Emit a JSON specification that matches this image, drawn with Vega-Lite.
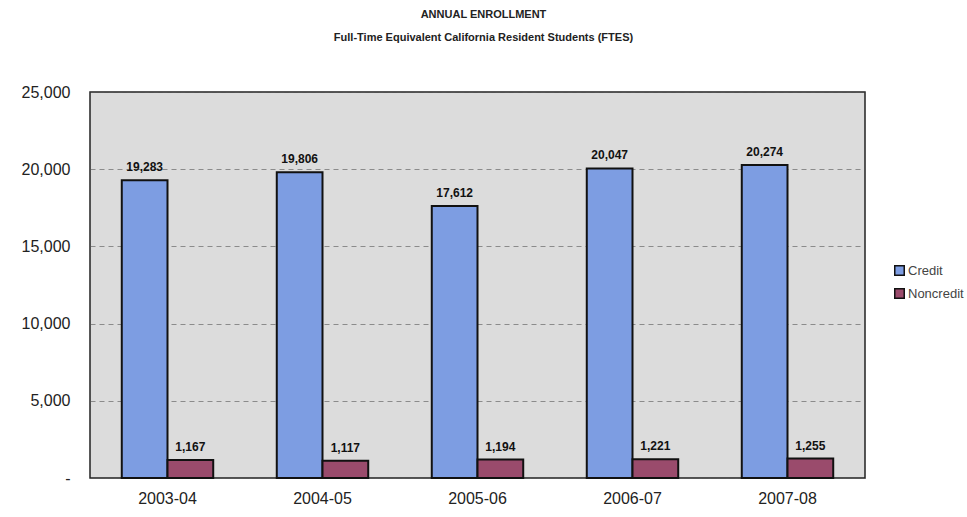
{
  "$schema": "https://vega.github.io/schema/vega-lite/v6.json",
  "width": 775,
  "height": 386,
  "autosize": {"type": "none"},
  "padding": {"left": 90, "top": 92, "right": 102, "bottom": 39},
  "background": "white",
  "title": {
    "text": "ANNUAL ENROLLMENT",
    "subtitle": "Full-Time Equivalent California Resident Students (FTES)",
    "font": "Liberation Sans",
    "fontSize": 11,
    "fontWeight": "bold",
    "subtitleFont": "Liberation Sans",
    "subtitleFontSize": 11,
    "subtitleFontWeight": "bold",
    "subtitleColor": "#222",
    "subtitlePadding": 12,
    "color": "#222",
    "anchor": "middle",
    "offset": 41,
    "dx": 6
  },
  "data": {
    "values": [
      {"year": "2003-04", "series": "Credit", "value": 19283},
      {"year": "2003-04", "series": "Noncredit", "value": 1167},
      {"year": "2004-05", "series": "Credit", "value": 19806},
      {"year": "2004-05", "series": "Noncredit", "value": 1117},
      {"year": "2005-06", "series": "Credit", "value": 17612},
      {"year": "2005-06", "series": "Noncredit", "value": 1194},
      {"year": "2006-07", "series": "Credit", "value": 20047},
      {"year": "2006-07", "series": "Noncredit", "value": 1221},
      {"year": "2007-08", "series": "Credit", "value": 20274},
      {"year": "2007-08", "series": "Noncredit", "value": 1255}
    ]
  },
  "encoding": {
    "x": {
      "field": "year",
      "type": "nominal",
      "sort": null,
      "scale": {"paddingInner": 0.41, "paddingOuter": 0.205},
      "axis": {
        "title": null,
        "labelAngle": 0,
        "labelFont": "Liberation Sans",
        "labelFontSize": 16,
        "labelColor": "#222",
        "labelPadding": 12,
        "ticks": false,
        "domain": false,
        "grid": false
      }
    },
    "xOffset": {"field": "series", "type": "nominal", "sort": ["Credit", "Noncredit"]},
    "y": {
      "field": "value",
      "type": "quantitative",
      "scale": {"domain": [0, 25000], "nice": false},
      "axis": {
        "title": null,
        "values": [0, 5000, 10000, 15000, 20000, 25000],
        "labelExpr": "datum.value == 0 ? '-' : format(datum.value, ',')",
        "labelFont": "Liberation Sans",
        "labelFontSize": 16,
        "labelColor": "#222",
        "labelPadding": 20,
        "ticks": false,
        "domain": false,
        "grid": true,
        "gridColor": "#555",
        "gridOpacity": 0.6,
        "gridDash": [5, 4],
        "gridWidth": 1
      }
    }
  },
  "layer": [
    {
      "mark": {"type": "bar", "stroke": "#111", "strokeWidth": 2},
      "encoding": {
        "color": {
          "field": "series",
          "type": "nominal",
          "scale": {"domain": ["Credit", "Noncredit"], "range": ["#7d9de2", "#9a4b6c"]},
          "legend": {
            "title": null,
            "orient": "none",
            "legendX": 803,
            "legendY": 172,
            "symbolType": "square",
            "symbolSize": 90,
            "labelFont": "Liberation Sans",
            "labelFontSize": 13,
            "labelColor": "#444",
            "labelOffset": 2,
            "rowPadding": 6,
            "encode": {
              "symbols": {
                "enter": {
                  "fill": {"signal": "datum.value === 'Credit' ? '#f2f2f2' : '#666666'"},
                  "stroke": {"value": "#222"},
                  "strokeWidth": {"value": 2}
                },
                "update": {
                  "fill": {"signal": "datum.value === 'Credit' ? '#f2f2f2' : '#666666'"},
                  "stroke": {"value": "#222"},
                  "strokeWidth": {"value": 2},
                  "opacity": {"value": 1}
                }
              }
            }
          }
        }
      }
    },
    {
      "mark": {
        "type": "text",
        "baseline": "bottom",
        "dy": -6,
        "font": "Liberation Sans",
        "fontSize": 12,
        "fontWeight": "bold",
        "color": "#111"
      },
      "encoding": {
        "text": {"field": "value", "type": "quantitative", "format": ","}
      }
    }
  ],
  "config": {
    "view": {"fill": "#dcdcdc", "stroke": "#222", "strokeWidth": 1.5}
  }
}
